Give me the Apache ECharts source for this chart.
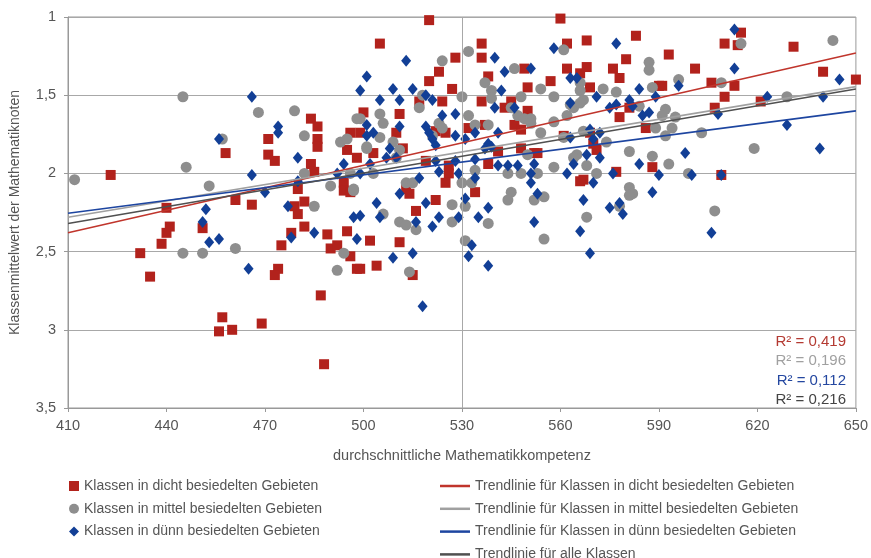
<!DOCTYPE html>
<html>
<head>
<meta charset="utf-8">
<script src="https://cdn.jsdelivr.net/npm/echarts@6/dist/echarts.min.js"></script>
<style>
html, body { margin: 0; padding: 0; background: #fff; }
#chart { width: 871px; height: 558px; }
</style>
</head>
<body>
<div id="chart"></div>
<script>
// Klassen in dicht besiedelten Gebieten
const dicht = [
  [423,2.01],[432,2.51],[435,2.66],[438.5,2.45],[440,2.38],[441,2.34],[440,2.22],[451,2.35],[457,2.92],[456,3.01],
  [460,3.0],[469,2.96],[461,2.17],[466,2.2],[475,2.46],[474,2.61],[473,2.65],[480,2.1],[479,2.21],[480,2.26],
  [482,2.18],[482,2.34],[478,2.38],[487,2.78],[488,3.22],[489,2.39],[490,2.48],[492,2.46],[495,2.37],[496,2.53],
  [498,2.61],[494,2.06],[494,2.11],[496,2.12],[458,1.87],[471,1.78],[471,1.88],[473,1.92],[484,1.65],[486,1.70],
  [486,1.78],[486,1.83],[484,1.94],[485,1.99],[496,1.74],[495,1.85],[498,1.90],[499,1.74],[500,1.61],
  [520,1.02],[505,1.17],[536,1.17],[536,1.26],[528,1.26],[523,1.35],[520,1.41],[527,1.46],[538,1.38],[549,1.33],
  [550,1.45],[557,1.41],[560,1.01],[562,1.17],[568,1.15],[562,1.33],[566,1.36],[568,1.32],[569,1.45],[576,1.33],
  [578,1.39],[580,1.27],[583,1.12],[524,1.54],[517,1.54],[511,1.62],[536,1.54],[543,1.58],[545,1.54],[550,1.60],
  [546,1.69],[548,1.72],[537,1.69],[532,1.71],[522,1.73],[525,1.74],[510,1.74],[512,1.84],[503,1.87],[519,1.92],
  [526,1.95],[526,2.0],[538,1.94],[541,1.86],[548,1.84],[552,1.87],[569,1.74],[570,1.81],[571,1.85],[578,1.64],
  [586,1.71],[588,1.96],[567,2.04],[577,1.99],[525,2.06],[534,2.12],[514,2.13],[522,2.17],[516,2.24],[502,2.43],
  [511,2.44],[499,2.61],[504,2.59],[515,2.65],[513,2.10],[581,1.58],[593,1.24],[601,1.33],[606,1.42],[610,1.17],
  [614,1.18],[615,1.10],[613,1.44],[610,1.51],[607,1.58],[590,1.44],[591,1.44],[609,2.01],[621,1.54],[631,1.19],
  [640,1.35],[650,1.40],[561,1.76],[553,1.87],[566,2.05]
];

// Klassen in mittel besiedelten Gebieten
const mittel = [
  [412,2.04],[445,1.51],[446,1.96],[453,2.08],[468,1.61],[479,1.60],[482,1.76],[457,1.78],[482,2.0],[490,2.08],
  [493,1.80],[495,1.78],[498,1.65],[497,2.11],[496,2.0],[445,2.51],[451,2.51],[461,2.48],[485,2.21],[494,2.51],
  [492,2.62],[497,2.10],[501,1.84],
  [532,1.22],[524,1.28],[546,1.33],[537,1.42],[539,1.47],[530,1.51],[548,1.51],[554,1.46],[558,1.51],[561,1.21],
  [566,1.42],[566,1.47],[567,1.53],[573,1.46],[577,1.48],[587,1.29],[587,1.34],[588,1.45],[539,1.52],[545,1.58],
  [547,1.63],[549,1.65],[551,1.65],[551,1.68],[554,1.74],[558,1.67],[562,1.63],[564,1.58],[567,1.73],[561,1.77],
  [565,1.88],[581,1.86],[588,1.89],[574,1.80],[532,1.63],[534,1.69],[538,1.69],[517,1.58],[518,1.50],[523,1.68],
  [524,1.71],[521,1.76],[505,1.62],[499,1.65],[506,1.68],[509,1.80],[511,1.85],[501,1.83],[505,1.77],[510,1.90],
  [503,2.0],[513,2.06],[515,2.06],[530,2.06],[533,2.06],[534,1.98],[544,2.0],[548,2.0],[550,1.88],[558,1.96],
  [571,2.0],[581,2.09],[582,2.13],[545,2.12],[553,2.0],
  [596,1.40],[584,1.57],[592,1.59],[591,1.63],[589,1.71],[594,1.71],[592,1.76],[603,1.74],[609,1.42],[615,1.17],
  [643,1.15],[629,1.51],[619,1.84],[593,1.94],[599,2.0],[607,2.24],[563,1.56],[566,1.55],[595,1.64],[564,1.90],
  [568,1.95],[578,2.21],[581,2.14],[568,2.28],[555,2.42],[555,2.15],[506,2.26],[511,2.31],[513,2.33],[516,2.36],
  [527,2.20],[527,2.31],[531,2.21],[531,2.43],[538,2.32],[544,2.17],[552,2.17],[514,2.63]
];

// Klassen in dünn besiedelten Gebieten
const duenn = [
  [466,1.51],[474,1.70],[474,1.74],[456,1.78],[480,1.90],[466,2.01],[470,2.12],[480,2.05],[494,1.94],[492,2.0],
  [452,2.23],[451,2.31],[453,2.44],[456,2.42],[465,2.61],[477,2.21],[478,2.41],[485,2.38],[497,2.28],[498,2.42],
  [499,1.47],[501,1.38],[501,1.76],[499,2.0],
  [513,1.28],[509,1.46],[515,1.46],[511,1.53],[505,1.53],[519,1.50],[521,1.53],[524,1.63],[528,1.62],[540,1.26],
  [543,1.35],[551,1.33],[542,1.47],[540,1.58],[546,1.58],[558,1.20],[563,1.39],[565,1.39],[571,1.51],[563,1.55],
  [577,1.17],[584,1.46],[575,1.58],[577,1.56],[581,1.53],[582,1.57],[585,1.63],[587,1.61],
  [501,1.69],[503,1.74],[511,1.70],[519,1.70],[520,1.74],[521,1.78],[522,1.82],[528,1.76],[531,1.78],[534,1.74],
  [538,1.81],[539,1.83],[541,1.74],[537,1.84],[508,1.84],[502,1.94],[507,1.90],[510,1.90],[517,2.03],[522,1.92],
  [523,1.99],[528,1.92],[529,2.0],[534,1.91],[534,2.03],[541,1.95],[544,1.95],[547,1.95],[551,2.0],[552,1.94],
  [551,2.06],[553,2.13],[563,1.77],[569,1.72],[572,1.74],[570,1.78],[568,1.88],[572,1.90],[562,2.0],[564,1.94],
  [570,2.06],[576,2.0],[584,1.94],[588,2.12],[511,2.13],
  [613,1.08],[613,1.33],[596,1.44],[589,1.51],[608,1.62],[623,1.51],[629,1.69],[640,1.51],[645,1.40],[639,1.84],
  [598,1.87],[590,2.01],[600,2.01],[609,2.01],[606,2.38],[567,2.17],[575,2.22],[578,2.19],[579,2.26],[566,2.37],
  [569,2.51],
  [504,2.19],[505,2.28],[516,2.31],[519,2.19],[523,2.28],[521,2.34],[515,2.51],[509,2.54],[531,2.16],[529,2.28],
  [535,2.28],[538,2.22],[533,2.46],[532,2.53],[538,2.59],[552,2.31],[518,2.85],[499,2.27]
];

// Trendlinien (Endpunkte bei 410 und 650)
const trendDicht = [[410, 2.38], [650, 1.23]];
const trendMittel = [[410, 2.28], [650, 1.445]];
const trendDuenn = [[410, 2.255], [650, 1.60]];
const trendAlle = [[410, 2.32], [650, 1.46]];

const xTicks = [410, 440, 470, 500, 530, 560, 590, 620, 650];
const r2Labels = ['R² = 0,419', 'R² = 0,196', 'R² = 0,112', 'R² = 0,216'];

const scatterNames = [
  'Klassen in dicht besiedelten Gebieten',
  'Klassen in mittel besiedelten Gebieten',
  'Klassen in dünn besiedelten Gebieten'
];
const lineNames = [
  'Trendlinie für Klassen in dicht besiedelten Gebieten',
  'Trendlinie für Klassen in mittel besiedelten Gebieten',
  'Trendlinie für Klassen in dünn besiedelten Gebieten',
  'Trendlinie für alle Klassen'
];

const FONT = "'Liberation Sans', Arial, sans-serif";
const RED = '#b2221c', GRAY = '#8e8e8e', BLUE = '#123f96';
const lineColors = ['#c0352c', '#a0a0a0', '#1d45a0', '#505050'];
const r2Colors = ['#b43a32', '#a0a0a0', '#2447a0', '#444'];

let chart = echarts.init(document.getElementById('chart'));

let graphics = r2Labels.map((t, i) => ({
  type: 'text',
  right: 25,
  top: 334 + i * 19.5,
  style: { text: t, fill: r2Colors[i], font: '15px ' + FONT }
}));

let legendText = { color: '#555', fontSize: 14, lineHeight: 14, fontFamily: FONT };

let options = {
  animation: false,
  textStyle: { fontFamily: FONT },
  grid: {
    left: 67, right: 12, top: 17, bottom: 150,
    show: true, borderColor: '#999', borderWidth: 1
  },
  legend: [
    {
      data: scatterNames,
      orient: 'vertical',
      left: 69, top: 479, height: 90, padding: 0,
      itemWidth: 10, itemHeight: 10, itemGap: 8.8,
      itemStyle: {},
      textStyle: legendText
    },
    {
      data: lineNames,
      orient: 'vertical',
      left: 440, top: 479, height: 90, padding: 0,
      icon: 'rect',
      itemWidth: 30, itemHeight: 2.5, itemGap: 8.8,
      textStyle: legendText
    }
  ],
  xAxis: {
    type: 'value',
    min: 410, max: 650,
    name: 'durchschnittliche Mathematikkompetenz',
    nameLocation: 'middle',
    nameGap: 40,
    nameTextStyle: { color: '#555', fontSize: 14.5 },
    axisLine: { show: true, lineStyle: { color: '#999' } },
    axisTick: { show: true, length: 4, customValues: xTicks, lineStyle: { color: '#999' } },
    axisLabel: { color: '#555', fontSize: 14.5, margin: 10, customValues: xTicks },
    splitLine: { show: false }
  },
  yAxis: {
    type: 'value',
    inverse: true,
    min: 1, max: 3.5, interval: 0.5,
    name: 'Klassenmittelwert der Mathematiknoten',
    nameLocation: 'middle',
    nameGap: 46,
    nameTextStyle: { color: '#555', fontSize: 14 },
    axisLine: { show: true, lineStyle: { color: '#999' } },
    axisTick: { show: true, length: 4, lineStyle: { color: '#999' } },
    axisLabel: {
      color: '#555', fontSize: 14.5, margin: 12,
      formatter: v => String(v).replace('.', ',')
    },
    splitLine: { show: true, lineStyle: { color: '#a8a8a8' } }
  },
  graphic: { elements: graphics },
  series: [
    {
      name: 'mitte',
      type: 'line',
      data: [],
      markLine: {
        silent: true,
        symbol: 'none',
        label: { show: false },
        lineStyle: { color: '#a8a8a8', width: 1, type: 'solid' },
        data: [{ xAxis: 530 }]
      }
    },
    {
      name: scatterNames[0],
      type: 'scatter',
      symbol: 'rect',
      symbolSize: 10,
      itemStyle: { color: RED, opacity: 1 },
      data: dicht
    },
    {
      name: scatterNames[1],
      type: 'scatter',
      symbol: 'circle',
      symbolSize: 11,
      itemStyle: { color: GRAY, opacity: 1 },
      data: mittel
    },
    {
      name: scatterNames[2],
      type: 'scatter',
      symbol: 'diamond',
      symbolSize: [10, 12],
      itemStyle: { color: BLUE, opacity: 1 },
      data: duenn
    }
  ].concat([trendDicht, trendMittel, trendDuenn, trendAlle].map((d, i) => ({
    name: lineNames[i],
    type: 'line',
    symbol: 'none',
    z: 5,
    lineStyle: { color: lineColors[i], width: 1.6 },
    itemStyle: { color: lineColors[i] },
    data: d
  })))
};

chart.setOption(options);
window.addEventListener('resize', () => { chart.resize() });
</script>
</body>
</html>
